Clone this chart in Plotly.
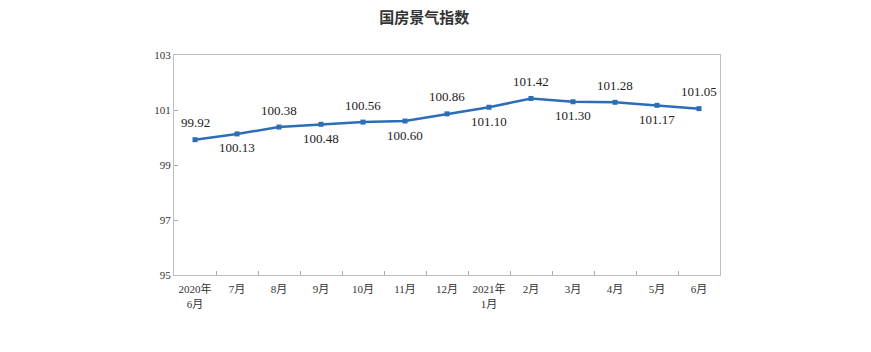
import plotly.graph_objects as go

categories = ["2020年<br>6月", "7月", "8月", "9月", "10月", "11月", "12月",
              "2021年<br>1月", "2月", "3月", "4月", "5月", "6月"]
values = [99.92, 100.13, 100.38, 100.48, 100.56, 100.60, 100.86,
          101.10, 101.42, 101.30, 101.28, 101.17, 101.05]
y_ticks = [95, 97, 99, 101, 103]

serif = "Liberation Serif, Times New Roman, Noto Sans CJK SC, serif"

fig = go.Figure()
fig.add_trace(go.Scatter(
    x=categories, y=values,
    mode="lines+markers",
    line=dict(color="#2c6db7", width=2.5),
    marker=dict(symbol="square", size=5, color="#2c6db7"),
    showlegend=False,
))

for i, (c, v) in enumerate(zip(categories, values)):
    fig.add_annotation(
        x=c, y=v, text=f"{v:.2f}", showarrow=False,
        yshift=17 if i % 2 == 0 else -14,
        font=dict(family=serif, size=13, color="#222222"),
    )

fig.update_layout(
    width=871, height=352,
    margin=dict(l=174, r=151, t=55, b=77),
    paper_bgcolor="white", plot_bgcolor="white",
    title=dict(text="<b>国房景气指数</b>", x=0.487, xanchor="center", y=0.95, yanchor="middle",
               font=dict(family="Noto Sans CJK SC", size=15, color="#333333")),
)
fig.update_xaxes(
    type="category", range=[-0.5, len(categories) - 0.5],
    tickson="boundaries", ticks="inside", ticklen=4, tickangle=0, ticklabelstandoff=4,
    tickcolor="#aaaaaa", showline=True, linecolor="#bfbfbf", linewidth=1, mirror=True,
    showgrid=False, tickfont=dict(family=serif, size=11, color="#333333"),
)
fig.update_yaxes(
    range=[95, 103], tickvals=y_ticks, ticks="inside", ticklen=4, tickcolor="#aaaaaa",
    showline=True, linecolor="#bfbfbf", linewidth=1, mirror=True,
    showgrid=False, zeroline=False, tickfont=dict(family=serif, size=11, color="#333333"),
)

fig.write_html("out.html")
